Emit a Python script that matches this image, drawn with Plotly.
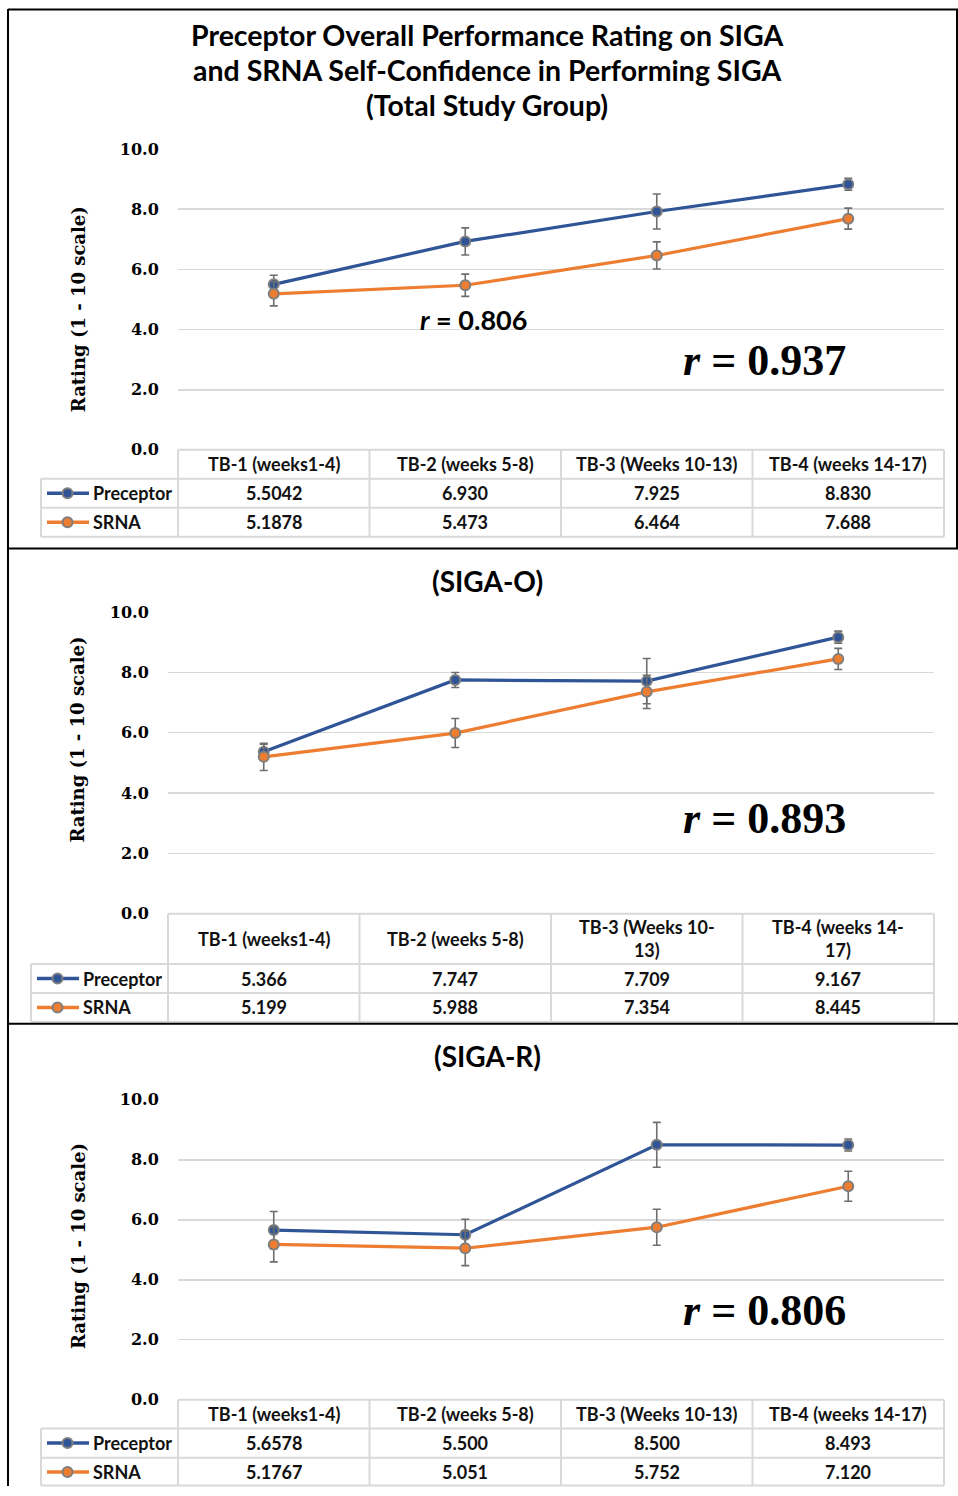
import plotly.graph_objects as go

W, H = 958, 1496

# ---------------- data ----------------
categories = ["TB-1 (weeks1-4)", "TB-2 (weeks 5-8)", "TB-3 (Weeks 10-13)", "TB-4 (weeks 14-17)"]
header_total = ["TB-1 (weeks1-4)", "TB-2 (weeks 5-8)", "TB-3 (Weeks 10-13)", "TB-4 (weeks 14-17)"]
header_o = ["TB-1 (weeks1-4)", "TB-2 (weeks 5-8)", "TB-3 (Weeks 10-<br>13)", "TB-4 (weeks 14-<br>17)"]
header_r = ["TB-1 (weeks1-4)", "TB-2 (weeks 5-8)", "TB-3 (Weeks 10-13)", "TB-4 (weeks 14-17)"]
series_names = ["Preceptor", "SRNA"]

total_prec_txt = ["5.5042", "6.930", "7.925", "8.830"]
total_srna_txt = ["5.1878", "5.473", "6.464", "7.688"]
total_prec_err = [0.30, 0.45, 0.58, 0.20]
total_srna_err = [0.40, 0.37, 0.45, 0.35]

o_prec_txt = ["5.366", "7.747", "7.709", "9.167"]
o_srna_txt = ["5.199", "5.988", "7.354", "8.445"]
o_prec_err = [0.25, 0.25, 0.75, 0.20]
o_srna_err = [0.45, 0.48, 0.55, 0.35]

r_prec_txt = ["5.6578", "5.500", "8.500", "8.493"]
r_srna_txt = ["5.1767", "5.051", "5.752", "7.120"]
r_prec_err = [0.62, 0.52, 0.75, 0.20]
r_srna_err = [0.58, 0.58, 0.60, 0.50]

y_ticks = [0, 2, 4, 6, 8, 10]
main_title = ["Preceptor Overall Performance Rating on SIGA",
              "and SRNA Self-Confidence in Performing SIGA",
              "(Total Study Group)"]
sub_titles = ["(SIGA-O)", "(SIGA-R)"]
y_title = "Rating (1 - 10 scale)"
r_labels = ["0.937", "0.893", "0.806"]
r_small = "0.806"

# ---------------- styling ----------------
BLUE = "#2F5597"
ORANGE = "#ED7D31"
GRID = "#D9D9D9"
TBL = "#D9D9D9"
ERR = "#6E6E6E"
SANS = "Lato"
SERIF = "DejaVu Serif"
TIMES = "Liberation Serif"

# vertical calibration of the photographed page (observed offset/scale)
Y_OFF, Y_SCALE = 10.0, 0.9865


def px(x):
    return x / W


def py(y):
    yy = (y - Y_OFF) / Y_SCALE
    yy = min(max(yy, 0.5), H - 0.5)
    return 1 - yy / H


panels = [
    dict(x0=178, x1=944, ytop=150, ybot=450.5, rows=[450.5, 479.3, 508.3, 537.3], leg=41,
         headers=header_total, prec=total_prec_txt, srna=total_srna_txt,
         pe=total_prec_err, se=total_srna_err, ytitle=310, r_y=361),
    dict(x0=168, x1=934, ytop=612.5, ybot=914, rows=[914, 964.3, 993.3, 1022], leg=31,
         headers=header_o, prec=o_prec_txt, srna=o_srna_txt,
         pe=o_prec_err, se=o_srna_err, ytitle=740, r_y=819),
    dict(x0=178, x1=944, ytop=1100, ybot=1399.5, rows=[1399.5, 1428.3, 1457.5, 1486.3], leg=41,
         headers=header_r, prec=r_prec_txt, srna=r_srna_txt,
         pe=r_prec_err, se=r_srna_err, ytitle=1246, r_y=1310),
]

fig = go.Figure()
shapes = []
annotations = []
layout_axes = {}

for i, p in enumerate(panels):
    sfx = "" if i == 0 else str(i + 1)
    xa, ya = "x" + sfx, "y" + sfx
    prec_vals = [float(v) for v in p["prec"]]
    srna_vals = [float(v) for v in p["srna"]]
    for name, vals, err, col in [(series_names[0], prec_vals, p["pe"], BLUE),
                                 (series_names[1], srna_vals, p["se"], ORANGE)]:
        fig.add_trace(go.Scatter(
            x=categories, y=vals, xaxis=xa, yaxis=ya, name=name, showlegend=False,
            mode="lines+markers",
            line=dict(color=col, width=3.2),
            marker=dict(size=10, color=col, line=dict(color="#7F7F7F", width=2)),
            error_y=dict(type="data", array=err, visible=True, color=ERR,
                         thickness=1.6, width=4),
        ))
    layout_axes["xaxis" + sfx] = dict(
        domain=[px(p["x0"]), px(p["x1"])], type="category", range=[-0.5, 3.5],
        showticklabels=False, showgrid=False, zeroline=False, showline=False,
        anchor=ya, fixedrange=True)
    layout_axes["yaxis" + sfx] = dict(
        domain=[py(p["ybot"]), py(p["ytop"])], range=[0, 10], tickvals=y_ticks,
        tickformat=".1f", showgrid=True, gridcolor=GRID, gridwidth=1.6,
        zeroline=False, showline=False, anchor=xa,
        ticks="outside", ticklen=15, tickcolor="rgba(0,0,0,0)",
        tickfont=dict(family=SERIF, size=16, color="#000000", weight="bold"),
        fixedrange=True)

    # ---- table ----
    r0, r1, r2, r3 = p["rows"]
    x0, x1, leg = p["x0"], p["x1"], p["leg"]
    cw = (x1 - x0) / 4
    line = dict(color=TBL, width=2)
    shapes.append(dict(type="line", xref="paper", yref="paper", x0=px(x0), x1=px(x1),
                       y0=py(r0), y1=py(r0), line=line))
    for rr in (r1, r2, r3):
        shapes.append(dict(type="line", xref="paper", yref="paper", x0=px(leg), x1=px(x1),
                           y0=py(rr), y1=py(rr), line=line))
    shapes.append(dict(type="line", xref="paper", yref="paper", x0=px(leg), x1=px(leg),
                       y0=py(r1), y1=py(r3), line=line))
    for k in range(5):
        xx = x0 + k * cw
        shapes.append(dict(type="line", xref="paper", yref="paper", x0=px(xx), x1=px(xx),
                           y0=py(r0), y1=py(r3), line=line))
    tfont = dict(family=SANS, size=18, color="#111111", weight="bold")
    for c, h, pv, sv in zip(categories, p["headers"], p["prec"], p["srna"]):
        annotations.append(dict(x=c, xref=xa, y=py((r0 + r1) / 2), yref="paper", text=h,
                                showarrow=False, font=tfont, xanchor="center",
                                yanchor="middle"))
        annotations.append(dict(x=c, xref=xa, y=py((r1 + r2) / 2), yref="paper", text=pv,
                                showarrow=False, font=tfont, xanchor="center",
                                yanchor="middle"))
        annotations.append(dict(x=c, xref=xa, y=py((r2 + r3) / 2), yref="paper", text=sv,
                                showarrow=False, font=tfont, xanchor="center",
                                yanchor="middle"))
    # legend keys in table
    for name, col, ya0, ya1 in [(series_names[0], BLUE, r1, r2), (series_names[1], ORANGE, r2, r3)]:
        yc = (ya0 + ya1) / 2
        shapes.append(dict(type="line", xref="paper", yref="paper", x0=px(leg + 6),
                           x1=px(leg + 48), y0=py(yc), y1=py(yc),
                           line=dict(color=col, width=3.5)))
        shapes.append(dict(type="circle", xref="paper", yref="paper",
                           x0=px(leg + 26.5 - 5), x1=px(leg + 26.5 + 5),
                           y0=py(yc - 5), y1=py(yc + 5), fillcolor=col,
                           line=dict(color="#7F7F7F", width=2)))
        annotations.append(dict(x=px(leg + 50), xref="paper", y=py(yc), yref="paper",
                                text=name, showarrow=False, font=tfont,
                                xanchor="left", yanchor="middle"))

    # y title
    annotations.append(dict(x=px(78), xref="paper", y=py(p["ytitle"]), yref="paper",
                            text=y_title, textangle=-90, showarrow=False,
                            font=dict(family=SERIF, size=18, color="#000000", weight="bold"),
                            xanchor="center", yanchor="middle"))
    # r annotation
    annotations.append(dict(x=px(764), xref="paper", y=py(p["r_y"]), yref="paper",
                            text="<i>r</i> = " + r_labels[i], showarrow=False,
                            font=dict(family=TIMES, size=44, color="#000000", weight="bold"),
                            xanchor="center", yanchor="middle"))

# titles
for k, (t, yy) in enumerate(zip(main_title, [36, 71, 106])):
    annotations.append(dict(x=px(487), xref="paper", y=py(yy), yref="paper", text=t,
                            showarrow=False,
                            font=dict(family=SANS, size=28.5, color="#000000", weight="bold"),
                            xanchor="center", yanchor="middle"))
for t, yy in zip(sub_titles, [582, 1056]):
    annotations.append(dict(x=px(487), xref="paper", y=py(yy), yref="paper", text=t,
                            showarrow=False,
                            font=dict(family=SANS, size=28, color="#000000", weight="bold"),
                            xanchor="center", yanchor="middle"))
# small r annotation in panel 1
annotations.append(dict(x=px(473), xref="paper", y=py(320), yref="paper",
                        text="<i>r</i> = " + r_small, showarrow=False,
                        font=dict(family=SANS, size=27, color="#000000", weight="bold"),
                        xanchor="center", yanchor="middle"))

# frame and separators
frame = dict(color="#000000", width=2)
shapes.append(dict(type="line", xref="paper", yref="paper", x0=px(8), x1=px(8), y0=0, y1=1, line=frame))
shapes.append(dict(type="line", xref="paper", yref="paper", x0=px(8), x1=1, y0=py(1), y1=py(1), line=frame))
shapes.append(dict(type="line", xref="paper", yref="paper", x0=px(957), x1=px(957), y0=py(549), y1=py(1), line=frame))
shapes.append(dict(type="line", xref="paper", yref="paper", x0=px(8), x1=1, y0=py(549), y1=py(549), line=frame))
shapes.append(dict(type="line", xref="paper", yref="paper", x0=px(8), x1=1, y0=py(1024), y1=py(1024), line=frame))

fig.update_layout(
    width=W, height=H, margin=dict(l=0, r=0, t=0, b=0),
    paper_bgcolor="white", plot_bgcolor="white",
    shapes=shapes, annotations=annotations, showlegend=False,
    **layout_axes,
)

fig.write_html(
    "out.html",
    config={"displayModeBar": False, "staticPlot": True},
    post_script=("document.documentElement.style.margin='0';"
                 "document.body.style.margin='0';"
                 "document.body.style.overflow='hidden';"
                 "var d=document.getElementById('{plot_id}');"
                 "d.style.position='absolute';d.style.left='0px';d.style.top='0px';"),
)
